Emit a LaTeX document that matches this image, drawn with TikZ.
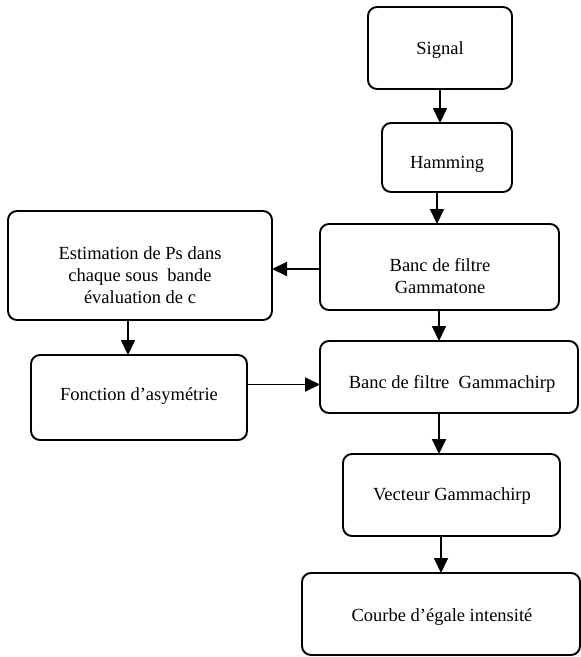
\documentclass[tikz,border=0pt]{standalone}
\usepackage{fontspec}
\setmainfont{Liberation Serif}
\usetikzlibrary{arrows.meta,calc}
\begin{document}
\begin{tikzpicture}[x=1pt,y=-1pt,
  box/.style={draw, line width=1.9pt, rounded corners=9pt, inner sep=0pt, outer sep=0pt},
  lbl/.style={font=\fontsize{18.5}{22}\selectfont, align=center, inner sep=0pt},
  arr/.style={line width=1.8pt, -{Triangle[length=15pt,width=14pt]}}]
\useasboundingbox (0,0) rectangle (581,657);
% boxes
\node[box, minimum width=144pt, minimum height=82pt] (sig) at (440,48) {};
\node[box, minimum width=130pt, minimum height=69pt] (ham) at (447,157.5) {};
\node[box, minimum width=239pt, minimum height=86pt] (gt) at (439.5,267) {};
\node[box, minimum width=264pt, minimum height=109pt] (est) at (140,265.5) {};
\node[box, minimum width=258pt, minimum height=72pt] (gc) at (449,377) {};
\node[box, minimum width=216pt, minimum height=85pt] (fa) at (139,397.5) {};
\node[box, minimum width=217pt, minimum height=82pt] (vg) at (451.5,495) {};
\node[box, minimum width=278pt, minimum height=82pt] (ce) at (441,614) {};
% texts
\node[lbl] (sigT) at (440,50) {Signal};
\node[lbl] (hamT) at (447,164) {Hamming};
\node[lbl] (gtT) at (440,276) {Banc de filtre\\Gammatone};
\node[lbl] (estT) at (140,275) {Estimation de Ps dans\\chaque sous~ bande\\évaluation de c};
\node[lbl] (gcT) at (452,384) {Banc de filtre~ Gammachirp};
\node[lbl] (faT) at (139,396) {Fonction d’asymétrie};
\node[lbl] (vgT) at (452,496) {Vecteur Gammachirp};
\node[lbl] (ceT) at (442,617) {Courbe d’égale intensité};
% connectors
\draw[arr] (sig.south) -- (sig.south |- ham.north);
\draw[arr] ($(ham.south)+(-10,0)$) coordinate (h1) -- (h1 |- gt.north);
\draw[arr] ($(gt.west)+(0,2)$) coordinate (g1) -- (g1 -| est.east);
\draw[arr] ($(gt.south)+(-0.5,0)$) coordinate (g2) -- (g2 |- gc.north);
\draw[arr] ($(est.south)+(-12,0)$) coordinate (e1) -- (e1 |- fa.north);
\draw[arr] ($(fa.east)+(0,-13)$) coordinate (f1) -- (f1 -| gc.west);
\draw[arr] ($(gc.south)+(-10,0)$) coordinate (c1) -- (c1 |- vg.north);
\draw[arr] (ce.north |- vg.south) -- (ce.north);
\end{tikzpicture}
\end{document}
